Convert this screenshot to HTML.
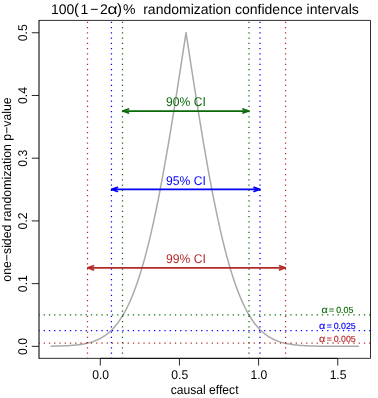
<!DOCTYPE html>
<html><head><meta charset="utf-8"><style>
html,body{margin:0;padding:0;background:#fff;}
svg{display:block;font-family:"Liberation Sans",sans-serif;will-change:transform;}
svg text{text-rendering:geometricPrecision;}
</style></head><body>
<svg width="378" height="398" viewBox="0 0 378 398">
<rect width="378" height="398" fill="#fff"/>
<path d="M51.08 346.17 L52.62 346.15 L54.16 346.12 L55.69 346.09 L57.23 346.06 L58.77 346.02 L60.30 345.98 L61.84 345.93 L63.38 345.87 L64.92 345.81 L66.45 345.74 L67.99 345.66 L69.53 345.57 L71.06 345.46 L72.60 345.34 L74.14 345.21 L75.67 345.06 L77.21 344.89 L78.75 344.71 L80.28 344.50 L81.82 344.26 L83.36 344.00 L84.90 343.71 L86.43 343.39 L87.97 343.03 L89.51 342.63 L91.04 342.19 L92.58 341.70 L94.12 341.17 L95.65 340.57 L97.19 339.92 L98.73 339.21 L100.26 338.43 L101.80 337.57 L103.34 336.64 L104.88 335.62 L106.41 334.51 L107.95 333.31 L109.49 332.00 L111.02 330.58 L112.56 329.05 L114.10 327.39 L115.63 325.60 L117.17 323.68 L118.71 321.61 L120.24 319.39 L121.78 317.02 L123.32 314.47 L124.86 311.76 L126.39 308.86 L127.93 305.78 L129.47 302.50 L131.00 299.03 L132.54 295.35 L134.08 291.45 L135.61 287.34 L137.15 283.00 L138.69 278.44 L140.22 273.64 L141.76 268.61 L143.30 263.34 L144.84 257.83 L146.37 252.07 L147.91 246.07 L149.45 239.83 L150.98 233.34 L152.52 226.60 L154.06 219.63 L155.59 212.42 L157.13 204.98 L158.67 197.30 L160.20 189.41 L161.74 181.29 L163.28 172.97 L164.81 164.45 L166.35 155.73 L167.89 146.84 L169.43 137.77 L170.96 128.54 L172.50 119.17 L174.04 109.66 L175.57 100.03 L177.11 90.30 L178.65 80.47 L180.18 70.57 L181.72 60.61 L183.26 50.60 L184.79 40.56 L186.03 32.50 L186.33 34.49 L187.87 44.53 L189.41 54.56 L190.94 64.55 L192.48 74.49 L194.02 84.37 L195.55 94.16 L197.09 103.85 L198.63 113.43 L200.16 122.89 L201.70 132.21 L203.24 141.37 L204.77 150.37 L206.31 159.20 L207.85 167.84 L209.39 176.29 L210.92 184.53 L212.46 192.55 L214.00 200.36 L215.53 207.95 L217.07 215.30 L218.61 222.42 L220.14 229.29 L221.68 235.93 L223.22 242.32 L224.75 248.47 L226.29 254.38 L227.83 260.04 L229.37 265.45 L230.90 270.63 L232.44 275.57 L233.98 280.27 L235.51 284.74 L237.05 288.99 L238.59 293.02 L240.12 296.83 L241.66 300.43 L243.20 303.82 L244.73 307.02 L246.27 310.03 L247.81 312.85 L249.35 315.50 L250.88 317.98 L252.42 320.29 L253.96 322.45 L255.49 324.46 L257.03 326.32 L258.57 328.06 L260.10 329.67 L261.64 331.15 L263.18 332.53 L264.71 333.80 L266.25 334.96 L267.79 336.03 L269.33 337.02 L270.86 337.92 L272.40 338.75 L273.94 339.50 L275.47 340.19 L277.01 340.81 L278.55 341.38 L280.08 341.90 L281.62 342.37 L283.16 342.79 L284.69 343.17 L286.23 343.52 L287.77 343.83 L289.30 344.11 L290.84 344.36 L292.38 344.58 L293.92 344.78 L295.45 344.96 L296.99 345.12 L298.53 345.27 L300.06 345.39 L301.60 345.50 L303.14 345.60 L304.67 345.69 L306.21 345.77 L307.75 345.84 L309.28 345.90 L310.82 345.95 L312.36 346.00 L313.90 346.04 L315.43 346.07 L316.97 346.10 L318.51 346.13 L320.04 346.15 L321.58 346.17 L323.12 346.19 L324.65 346.21 L326.19 346.22 L327.73 346.23 L329.26 346.24 L330.80 346.25 L332.34 346.26 L333.88 346.26 L335.41 346.27 L336.95 346.27 L338.49 346.28 L340.02 346.28 L341.56 346.28 L343.10 346.29 L344.63 346.29 L346.17 346.29 L347.71 346.29 L349.24 346.29 L350.78 346.29 L352.32 346.30 L353.86 346.30 L355.39 346.30 L356.93 346.30 L358.47 346.30" fill="none" stroke="#a9a9a9" stroke-width="1.5" stroke-linejoin="round" stroke-linecap="round"/>
<line x1="87.5" y1="358.35" x2="87.5" y2="20.4" stroke="#b32a2a" stroke-width="1.25" stroke-dasharray="1.25 4" stroke-dashoffset="0.6"/>
<line x1="111.45" y1="358.35" x2="111.45" y2="20.4" stroke="#0000ff" stroke-width="1.25" stroke-dasharray="1.25 4" stroke-dashoffset="0.6"/>
<line x1="122.5" y1="358.35" x2="122.5" y2="20.4" stroke="#0a6a0a" stroke-width="1.25" stroke-dasharray="1.25 4" stroke-dashoffset="0.6"/>
<line x1="249.0" y1="358.35" x2="249.0" y2="20.4" stroke="#0a6a0a" stroke-width="1.25" stroke-dasharray="1.25 4" stroke-dashoffset="0.6"/>
<line x1="260.0" y1="358.35" x2="260.0" y2="20.4" stroke="#0000ff" stroke-width="1.25" stroke-dasharray="1.25 4" stroke-dashoffset="0.6"/>
<line x1="285.55" y1="358.35" x2="285.55" y2="20.4" stroke="#b32a2a" stroke-width="1.25" stroke-dasharray="1.25 4" stroke-dashoffset="0.6"/>
<line x1="39.0" y1="314.8" x2="370.5" y2="314.8" stroke="#0a6a0a" stroke-width="1.25" stroke-dasharray="1.25 4" stroke-dashoffset="0.6"/>
<line x1="39.0" y1="330.5" x2="370.5" y2="330.5" stroke="#0000ff" stroke-width="1.25" stroke-dasharray="1.25 4" stroke-dashoffset="0.6"/>
<line x1="39.0" y1="343.0" x2="370.5" y2="343.0" stroke="#b32a2a" stroke-width="1.25" stroke-dasharray="1.25 4" stroke-dashoffset="0.6"/>
<path d="M39.0 358.35 L370.5 358.35 L370.5 20.4 L39.0 20.4" fill="none" stroke="#000" stroke-width="0.82"/>
<line x1="39.0" y1="19.99" x2="39.0" y2="358.76000000000005" stroke="#000" stroke-width="1.05"/>
<line x1="100.30" y1="358.35" x2="100.30" y2="365.55" stroke="#000" stroke-width="0.85"/>
<text transform="translate(100.6,378.8) scale(0.955,1)" text-anchor="middle" font-size="12.7" fill="#000">0.0</text>
<line x1="179.45" y1="358.35" x2="179.45" y2="365.55" stroke="#000" stroke-width="0.85"/>
<text transform="translate(179.75,378.8) scale(0.955,1)" text-anchor="middle" font-size="12.7" fill="#000">0.5</text>
<line x1="258.60" y1="358.35" x2="258.60" y2="365.55" stroke="#000" stroke-width="0.85"/>
<text transform="translate(258.9,378.8) scale(0.955,1)" text-anchor="middle" font-size="12.7" fill="#000">1.0</text>
<line x1="337.75" y1="358.35" x2="337.75" y2="365.55" stroke="#000" stroke-width="0.85"/>
<text transform="translate(338.05,378.8) scale(0.955,1)" text-anchor="middle" font-size="12.7" fill="#000">1.5</text>
<line x1="31.8" y1="346.35" x2="39.0" y2="346.35" stroke="#000" stroke-width="0.85"/>
<text transform="translate(27.3,346.35) rotate(-90) scale(0.968,1)" text-anchor="middle" font-size="12.7" fill="#000">0.0</text>
<line x1="31.8" y1="283.63" x2="39.0" y2="283.63" stroke="#000" stroke-width="0.85"/>
<text transform="translate(27.3,283.63) rotate(-90) scale(0.968,1)" text-anchor="middle" font-size="12.7" fill="#000">0.1</text>
<line x1="31.8" y1="220.91" x2="39.0" y2="220.91" stroke="#000" stroke-width="0.85"/>
<text transform="translate(27.3,220.91) rotate(-90) scale(0.968,1)" text-anchor="middle" font-size="12.7" fill="#000">0.2</text>
<line x1="31.8" y1="158.19" x2="39.0" y2="158.19" stroke="#000" stroke-width="0.85"/>
<text transform="translate(27.3,158.19) rotate(-90) scale(0.968,1)" text-anchor="middle" font-size="12.7" fill="#000">0.3</text>
<line x1="31.8" y1="95.47" x2="39.0" y2="95.47" stroke="#000" stroke-width="0.85"/>
<text transform="translate(27.3,95.47) rotate(-90) scale(0.968,1)" text-anchor="middle" font-size="12.7" fill="#000">0.4</text>
<line x1="31.8" y1="32.75" x2="39.0" y2="32.75" stroke="#000" stroke-width="0.85"/>
<text transform="translate(27.3,32.75) rotate(-90) scale(0.968,1)" text-anchor="middle" font-size="12.7" fill="#000">0.5</text>
<line x1="100.3" y1="358.35" x2="337.75" y2="358.35" stroke="#000" stroke-width="0.85"/>
<text transform="translate(204.6,393.6) scale(0.955,1)" text-anchor="middle" font-size="12.7" fill="#000">causal effect</text>
<text transform="translate(11.4,189.5) rotate(-90) scale(0.968,1)" text-anchor="middle" font-size="12.7" fill="#000">one−sided randomization p−value</text>
<g font-size="14"><text x="51.0" y="14.2">100</text><text x="73.9" y="14.4" font-size="15">(</text><text x="80.6" y="14.2">1</text><text x="90.3" y="14.2">−</text><text x="100.0" y="14.2">2</text><text transform="translate(107.4,14.2) scale(1.2,1)" font-size="14.5">α</text><text x="116.9" y="14.4" font-size="15">)</text><text x="123.1" y="14.2">%</text><text x="143.2" y="14.2">randomization confidence intervals</text></g>
<g stroke="#0a6a0a" stroke-width="1.75" fill="none" stroke-linecap="round" stroke-linejoin="round"><line x1="122.8" y1="111" x2="248.7" y2="111"/><polyline points="128.5,108.95 122.8,111 128.5,113.05"/><polyline points="243.0,108.95 248.7,111 243.0,113.05"/></g>
<g stroke="#0000ff" stroke-width="1.75" fill="none" stroke-linecap="round" stroke-linejoin="round"><line x1="111.75" y1="189.4" x2="259.7" y2="189.4"/><polyline points="117.45,187.35 111.75,189.4 117.45,191.45000000000002"/><polyline points="254.0,187.35 259.7,189.4 254.0,191.45000000000002"/></g>
<g stroke="#b32a2a" stroke-width="1.75" fill="none" stroke-linecap="round" stroke-linejoin="round"><line x1="87.8" y1="267.8" x2="285.25" y2="267.8"/><polyline points="93.5,265.75 87.8,267.8 93.5,269.85"/><polyline points="279.55,265.75 285.25,267.8 279.55,269.85"/></g>
<text transform="translate(185.9,106.3) scale(0.955,1)" text-anchor="middle" font-size="12.7" fill="#0a6a0a">90% CI</text>
<text transform="translate(185.9,184.9) scale(0.955,1)" text-anchor="middle" font-size="12.7" fill="#0000ff">95% CI</text>
<text transform="translate(185.9,262.9) scale(0.955,1)" text-anchor="middle" font-size="12.7" fill="#b32a2a">99% CI</text>
<g font-size="8.8" fill="#0a6a0a" stroke="#0a6a0a" stroke-width="0.15"><text transform="translate(321.5,313.0) scale(1.12,1)" font-size="9.6">α</text><text x="329.1" y="313.0">=</text><text x="336.2" y="313.0">0.05</text></g>
<g font-size="8.8" fill="#0000ff" stroke="#0000ff" stroke-width="0.15"><text transform="translate(319.1,328.8) scale(1.12,1)" font-size="9.6">α</text><text x="326.8" y="328.8">=</text><text x="333.7" y="328.8">0.025</text></g>
<g font-size="8.8" fill="#b32a2a" stroke="#b32a2a" stroke-width="0.15"><text transform="translate(319.1,341.5) scale(1.12,1)" font-size="9.6">α</text><text x="326.8" y="341.5">=</text><text x="333.7" y="341.5">0.005</text></g>
</svg>
</body></html>
